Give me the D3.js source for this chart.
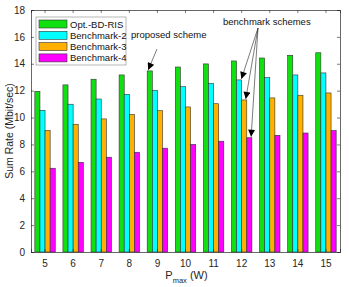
<!DOCTYPE html>
<meta charset="utf-8">
<style>
  body { margin: 0; background: #fff; }
  text { font-family: "Liberation Sans", Arial, sans-serif; }
</style>
<body>
<script src="https://cdn.jsdelivr.net/npm/d3@7"></script>
<script>

    var width = 349,
        height = 287;

    // data
    var pmax = [5, 6, 7, 8, 9, 10, 11, 12, 13, 14, 15];
    var seriesNames = ["Opt.-BD-RIS", "Benchmark-2", "Benchmark-3", "Benchmark-4"];
    var optBD  = [11.95, 12.43, 12.85, 13.17, 13.47, 13.76, 13.99, 14.21, 14.43, 14.63, 14.82];
    var bench2 = [10.54, 10.99, 11.38, 11.73, 12.03, 12.30, 12.55, 12.80, 12.97, 13.17, 13.32];
    var bench3 = [9.03, 9.50, 9.90, 10.24, 10.51, 10.79, 11.03, 11.31, 11.46, 11.66, 11.83];
    var bench4 = [6.23, 6.67, 7.05, 7.42, 7.72, 8.00, 8.24, 8.50, 8.68, 8.85, 9.03];
    var yTicks = [0, 2, 4, 6, 8, 10, 12, 14, 16, 18];
    var colors = ["#10e010", "#00ffff", "#ffb000", "#ff00ff"];

    var series = [optBD, bench2, bench3, bench4];

    var margin = {left: 31, right: 9, top: 10, bottom: 35};
    var innerW = width - margin.left - margin.right,
        innerH = height - margin.top - margin.bottom;

    var svg = d3.select("body").append("svg")
            .attr("width", width)
            .attr("height", height);

    var defs = svg.append("defs");
    defs.append("marker")
            .attr("id", "arrow")
            .attr("viewBox", "0 0 10 10")
            .attr("refX", 10).attr("refY", 5)
            .attr("markerWidth", 8).attr("markerHeight", 7)
            .attr("markerUnits", "userSpaceOnUse")
            .attr("orient", "auto")
            .append("path")
            .attr("d", "M0,0L10,5L0,10Z")
            .attr("fill", "#000");

    var g = svg.append("g")
            .attr("transform", "translate(" + margin.left + "," + margin.top + ")");

    var x = d3.scaleBand().domain(pmax).range([0, innerW]).padding(0);
    var groupW = x.bandwidth() * 0.727;
    var xs = d3.scaleBand().domain(d3.range(4)).range([0, groupW]).padding(0);
    var y = d3.scaleLinear().domain([0, 18]).range([innerH, 0]);

    // bars
    series.forEach(function(vals, s) {
        g.append("g").selectAll("rect")
                .data(vals)
                .enter().append("rect")
                .attr("x", function(d, i) { return x(pmax[i]) + (x.bandwidth() - groupW) / 2 + xs(s); })
                .attr("y", function(d) { return y(d); })
                .attr("width", xs.bandwidth())
                .attr("height", function(d) { return innerH - y(d); })
                .attr("fill", colors[s])
                .attr("stroke", "#333")
                .attr("stroke-width", 0.6);
    });

    // axes (box with inward ticks)
    var axisColor = "#262626";
    var xAxis = d3.axisBottom(x).tickSize(-3).tickPadding(8);
    var yAxis = d3.axisLeft(y).tickValues(yTicks).tickSize(-3).tickPadding(6);

    var gx = g.append("g").attr("transform", "translate(0," + innerH + ")").call(xAxis);
    var gy = g.append("g").call(yAxis);
    g.append("g").call(d3.axisTop(x).tickSize(-3).tickFormat(""));
    g.append("g").attr("transform", "translate(" + innerW + ",0)")
            .call(d3.axisRight(y).tickValues(yTicks).tickSize(-3).tickFormat(""));

    g.selectAll(".domain").attr("stroke", axisColor).attr("stroke-width", 0.7);
    g.selectAll(".tick line").attr("stroke", axisColor).attr("stroke-width", 0.6);
    g.selectAll(".tick text")
            .attr("fill", axisColor)
            .style("font-family", "'Liberation Sans', Arial, sans-serif")
            .style("font-size", "10px");

    // axis labels
    svg.append("text")
            .attr("transform", "translate(13," + (margin.top + innerH / 2) + ") rotate(-90)")
            .attr("text-anchor", "middle")
            .attr("fill", axisColor)
            .style("font-size", "10.5px")
            .text("Sum Rate (Mbit/sec)");

    var xl = svg.append("text")
            .attr("x", margin.left + innerW / 2 + 1)
            .attr("y", 279)
            .attr("text-anchor", "middle")
            .attr("fill", axisColor)
            .style("font-size", "11px");
    xl.append("tspan").text("P");
    xl.append("tspan").attr("dy", 4).style("font-size", "7.5px").text("max");
    xl.append("tspan").attr("dy", -4).text(" (W)");

    // legend
    var lg = g.append("g").attr("transform", "translate(5,7)");
    lg.append("rect")
            .attr("width", 90).attr("height", 48)
            .attr("fill", "#fff")
            .attr("stroke", "#999").attr("stroke-width", 0.7);
    seriesNames.forEach(function(name, i) {
        var row = lg.append("g").attr("transform", "translate(3," + (3 + i * 11.3) + ")");
        row.append("rect")
                .attr("width", 28).attr("height", 8)
                .attr("fill", colors[i])
                .attr("stroke", "#333").attr("stroke-width", 0.6);
        row.append("text")
                .attr("x", 31).attr("y", 7.5)
                .attr("fill", "#111")
                .style("font-size", "9.5px")
                .text(name);
    });

    // annotations
    function barX(p, s) {
        return x(p) + (x.bandwidth() - groupW) / 2 + xs(s);
    }

    g.append("text")
            .attr("x", 100).attr("y", 28)
            .attr("fill", "#111")
            .style("font-size", "9.5px")
            .text("proposed scheme");
    g.append("line")
            .attr("x1", 126).attr("y1", 39)
            .attr("x2", barX(9, 0) + 1).attr("y2", y(optBD[4]) - 1)
            .attr("stroke", "#222").attr("stroke-width", 0.6)
            .attr("marker-end", "url(#arrow)");

    g.append("text")
            .attr("x", 192).attr("y", 15)
            .attr("fill", "#111")
            .style("font-size", "9.5px")
            .text("benchmark schemes");
    [[1, bench2[7], 0.95], [2, bench3[7], 0.8], [3, bench4[7], 0.85]].forEach(function(b) {
        g.append("line")
                .attr("x1", 227).attr("y1", 18)
                .attr("x2", barX(12, b[0]) + xs.bandwidth() * b[2]).attr("y2", y(b[1]) - 1)
                .attr("stroke", "#222").attr("stroke-width", 0.6)
                .attr("marker-end", "url(#arrow)");
    });

</script>
</body>
